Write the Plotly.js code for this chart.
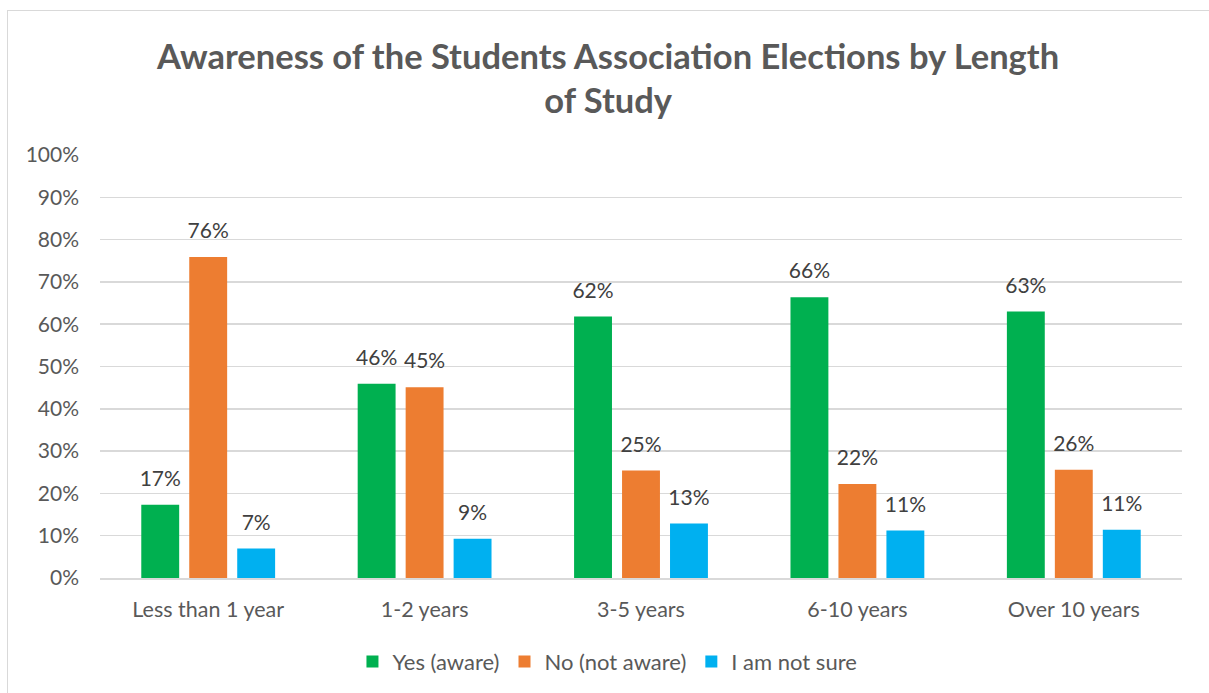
<!DOCTYPE html>
<html>
<head>
<meta charset="utf-8">
<script src="https://cdn.plot.ly/plotly-3.0.1.min.js"></script>
<style>
  html, body { margin: 0; padding: 0; background: #fff; }
  #wrap { position: relative; width: 1209px; height: 693px; overflow: hidden; }
  #frame { position: absolute; left: 7px; top: 10px; width: 1220px; height: 700px;
           border-top: 1px solid #d9d9d9; border-left: 1px solid #d9d9d9; box-sizing: border-box; }
  #chart { position: absolute; left: 0; top: 0; width: 1209px; height: 693px; }
</style>
</head>
<body>
<div id="wrap">
  <div id="frame"></div>
  <div id="chart"></div>
</div>
<script>
const categories = ["Less than 1 year", "1-2 years", "3-5 years", "6-10 years", "Over 10 years"];
const yesAware = [17.3, 45.9, 61.8, 66.4, 63.0];
const notAware = [75.9, 45.1, 25.4, 22.2, 25.6];
const notSure  = [7.0, 9.3, 12.9, 11.2, 11.4];
const seriesNames = ["Yes (aware)", "No (not aware)", "I am not sure"];
const seriesColors = ["#00b050", "#ed7d31", "#00b0f0"];

const font = "Lato, 'Open Sans', sans-serif";
const seriesValues = [yesAware, notAware, notSure];
const barTraces = seriesValues.map((vals, i) => ({
  type: "bar",
  name: seriesNames[i],
  x: categories,
  y: vals,
  marker: { color: seriesColors[i], line: { width: 0 } },
  offsetgroup: "g" + i,
  alignmentgroup: "a",
  hoverinfo: "skip"
}));
const labelTraces = seriesValues.map((vals, i) => ({
  type: "scatter",
  mode: "markers+text",
  x: categories,
  y: vals,
  marker: { size: 20, opacity: 0, color: seriesColors[i] },
  text: vals.map(v => Math.round(v) + "%"),
  textposition: "top center",
  textfont: { family: font, size: 21, color: "#404040" },
  offsetgroup: "g" + i,
  alignmentgroup: "a",
  cliponaxis: false,
  showlegend: false,
  hoverinfo: "skip"
}));

const layout = {
  width: 1209, height: 693,
  paper_bgcolor: "rgba(0,0,0,0)",
  plot_bgcolor: "rgba(0,0,0,0)",
  margin: { l: 100, r: 27, t: 155, b: 114 },
  title: {
    text: "<b>Awareness of the Students Association Elections by Length<br>of Study</b>",
    font: { family: font, size: 34.5, color: "#595959" },
    x: 0.503, xanchor: "center", y: 0.901, yanchor: "middle"
  },
  barmode: "group",
  scattermode: "group",
  bargap: 0.335,
  bargroupgap: 0.21,
  scattergap: 0.335,
  xaxis: {
    type: "category",
    showgrid: false,
    showline: true, linecolor: "#d9d9d9", linewidth: 1.5,
    ticks: "",
    tickfont: { family: font, size: 21.5, color: "#595959" },
    ticklabelstandoff: 12
  },
  yaxis: {
    range: [0, 100],
    dtick: 10,
    ticksuffix: "%",
    showgrid: true, gridcolor: "#d9d9d9", gridwidth: 1.5,
    zeroline: false,
    showline: false,
    ticks: "",
    tickfont: { family: font, size: 21, color: "#595959" },
    ticklabelstandoff: 20
  },
  legend: {
    orientation: "h",
    x: 0.469, xanchor: "center",
    y: -0.195, yanchor: "middle",
    font: { family: font, size: 22, color: "#595959" },
    itemwidth: 30,
    traceorder: "normal"
  },
  showlegend: true
};

Plotly.newPlot("chart", barTraces.concat(labelTraces), layout, { displayModeBar: false, staticPlot: true });
</script>
</body>
</html>
